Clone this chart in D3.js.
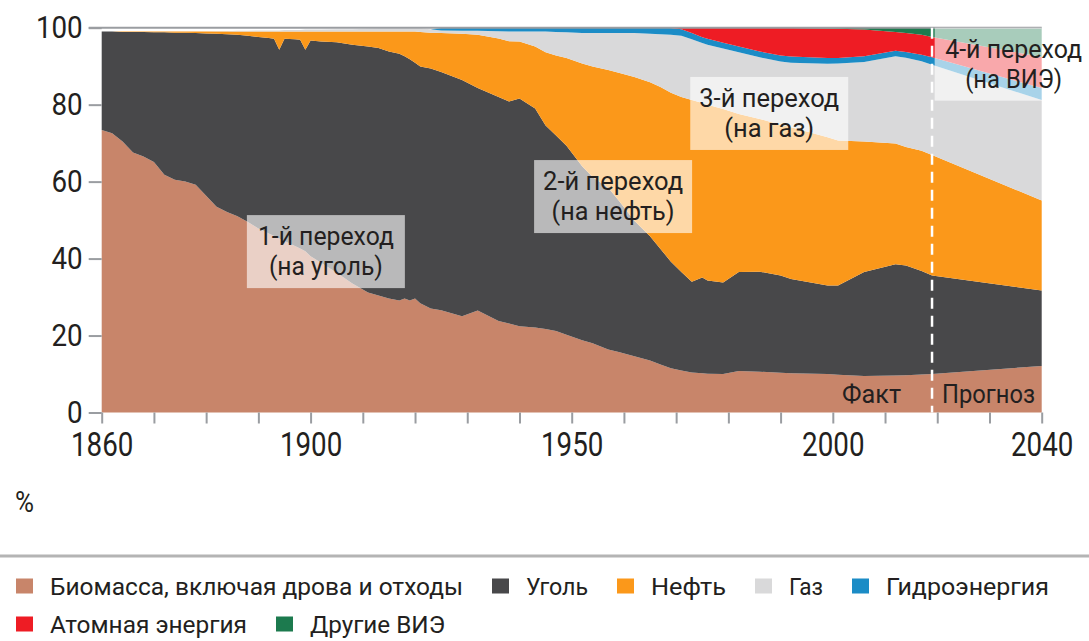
<!DOCTYPE html>
<html>
<head>
<meta charset="utf-8">
<script src="https://d3js.org/d3.v7.min.js"></script>
<style>
  body { margin: 0; background: #fff; }
  svg text { font-family: Roboto, "Liberation Sans", "DejaVu Sans Condensed", sans-serif; fill: #231f20; }
</style>
</head>
<body>
<div id="chart"></div>
<script>
// Shares of world primary energy, % (fact to 2019, forecast to 2040)
var years = [1860,1862,1864,1866,1868,1870,1872,1874,1876,1878,1880,1882,1884,1886,1888,1890,1892,1893,1894,1895,
  1897,1898,1899,1900,1902,1905,1908,1911,1913,1915,1917,1918,1919,1920,1921,1923,1925,1929,1932,1936,
  1938,1940,1943,1945,1947,1949,1952,1954,1957,1959,1962,1965,1967,1969,1971,1973,1975,1976,1979,1982,
  1986,1990,1992,1999,2001,2006,2012,2014,2017,2019,2040];

var biomass = [73.4,72.6,70.4,67.6,66.5,65.1,61.8,60.5,60.0,59.2,56.3,53.5,52.1,51.0,49.5,47.8,46.5,45.9,45.2,44.6,
  43.3,42.6,41.9,40.6,38.9,36.3,33.5,31.2,30.4,29.6,29.1,29.6,29.1,29.6,28.4,27.0,26.6,25.0,26.5,23.8,
  23.1,22.4,22.1,21.7,21.2,20.2,18.8,18.0,16.4,15.7,14.6,13.5,12.5,11.5,10.9,10.4,10.2,10.1,10.0,10.8,
  10.6,10.3,10.2,10.0,9.8,9.5,9.6,9.7,9.9,10.0,12.1];

var coal = [25.6,26.4,28.5,31.3,32.4,33.7,37.0,38.2,38.7,39.4,42.2,44.9,46.2,47.2,48.4,49.8,50.8,51.2,49.1,52.5,
  53.7,54.3,52.4,56.1,57.5,59.9,62.1,63.9,64.3,64.2,64.1,63.0,62.7,61.3,61.5,62.4,61.9,61.4,57.8,58.2,
  57.7,59.2,56.9,52.9,50.8,49.1,45.2,43.2,42.0,39.4,35.2,32.3,30.0,27.7,25.6,23.6,24.9,24.2,23.8,25.7,
  26.0,25.3,24.5,23.0,23.2,27.0,28.9,28.5,26.9,25.6,19.6];

var oil = [0,0,0.1,0.1,0.1,0.2,0.2,0.3,0.3,0.4,0.5,0.6,0.7,0.8,1.1,1.4,1.7,1.9,4.7,1.9,
  2.0,2.1,4.7,2.3,2.6,2.8,3.4,3.9,4.3,5.2,5.8,6.4,7.2,8.1,9.0,9.3,10.1,12.0,13.9,15.2,
  15.7,14.8,16.1,19.0,20.8,22.8,26.7,28.7,30.6,33.2,37.4,40.0,42.1,43.9,45.5,47.2,45.3,45.7,45.1,41.1,
  39.7,39.2,39.4,38.5,37.7,33.9,31.4,30.8,31.2,31.3,23.4];

var gas = [0,0,0,0,0,0,0,0,0,0,0,0.1,0.1,0.2,0.2,0.3,0.3,0.3,0.3,0.4,
  0.4,0.4,0.5,0.5,0.5,0.6,0.6,0.7,0.8,0.8,0.8,0.8,0.8,0.8,0.9,0.9,0.7,0.8,1.0,1.9,
  2.5,2.6,3.9,5.4,6.1,6.7,7.9,8.7,9.6,10.3,11.4,12.6,13.7,15.1,15.9,15.8,15.6,15.6,15.7,16.0,
  16.0,16.4,16.8,19.1,20.0,20.7,22.7,23.2,23.3,23.5,26.1];

var hydro = [0,0,0,0,0,0,0,0,0,0,0,0,0,0,0,0,0,0,0,0,
  0,0,0,0,0,0,0,0,0,0,0,0,0,0,0,0,0.6,0.7,0.7,0.8,
  0.9,0.9,0.9,0.9,1.0,1.1,1.3,1.3,1.3,1.3,1.3,1.5,1.6,1.7,1.7,1.6,1.5,1.5,1.5,1.5,
  1.5,1.6,1.6,1.5,1.4,1.5,1.4,1.5,1.7,1.9,3.1];

var nuclear = [0,0,0,0,0,0,0,0,0,0,0,0,0,0,0,0,0,0,0,0,
  0,0,0,0,0,0,0,0,0,0,0,0,0,0,0,0,0,0,0,0,
  0,0,0,0,0,0,0,0,0,0,0,0,0,0,0.3,1.3,2.4,2.8,3.8,4.8,
  6.1,7.1,7.4,7.7,7.6,6.9,4.9,4.9,5.2,5.3,8.1];

var renewables = [0,0,0,0,0,0,0,0,0,0,0,0,0,0,0,0,0,0,0,0,
  0,0,0,0,0,0,0,0,0,0,0,0,0,0,0,0,0,0,0,0,
  0,0,0,0,0,0,0,0,0,0,0,0,0,0,0,0,0,0,0,0,
  0,0,0,0.1,0.2,0.4,1.0,1.3,1.7,2.3,7.6];

var seriesKeys = ["biomass", "coal", "oil", "gas", "hydro", "nuclear", "renewables"];
var seriesNames = ["Биомасса, включая дрова и отходы", "Уголь", "Нефть", "Газ", "Гидроэнергия",
  "Атомная энергия", "Другие ВИЭ"];
var seriesColors = ["#c8856a", "#48484a", "#fb981a", "#d9d9da", "#1b8cc6", "#ee1c24", "#1c7a4e"];

var yTicks = [0, 20, 40, 60, 80, 100];
var xTicks = d3.range(1860, 2041, 10);
var xLabels = [1860, 1900, 1950, 2000, 2040];
var factYear = 2019;

// the four "transition" captions, anchored at their top-left corner (year, %)
var notes = [
  { lines: ["1-й переход", "(на уголь)"], year: 1887.8, value: 51.3 },
  { lines: ["2-й переход", "(на нефть)"], year: 1942.8, value: 65.6 },
  { lines: ["3-й переход", "(на газ)"], year: 1972.7, value: 87.2 },
  { lines: ["4-й переход", "(на ВИЭ)"], year: 2019.5, value: 100 }
];

// layout: the original face is a condensed one, so text is squeezed to the widths it takes there
var width = 1089, height = 641;
var boxW = 158, boxH = 73;
var digitW = 15.6;
var textWidths = {
  "Биомасса, включая дрова и отходы": 413, "Уголь": 62, "Нефть": 75, "Газ": 34, "Гидроэнергия": 163,
  "Атомная энергия": 197, "Другие ВИЭ": 135,
  "1-й переход": 136, "2-й переход": 140, "3-й переход": 140, "4-й переход": 137,
  "(на уголь)": 114, "(на нефть)": 123, "(на газ)": 90, "(на ВИЭ)": 97,
  "Факт": 59, "Прогноз": 93, "%": 19
};

function squeeze(sel) {
  sel.each(function() {
    var s = d3.select(this).text();
    var w = textWidths[s] || s.length * digitW;
    d3.select(this).attr("textLength", w).attr("lengthAdjust", "spacingAndGlyphs");
  });
}

var svg = d3.select("#chart").append("svg")
    .attr("width", width)
    .attr("height", height);

var x = d3.scaleLinear().domain([1860, 2040]).range([101.7, 1041.7]);
var y = d3.scaleLinear().domain([0, 100]).range([412.5, 27.7]);

var columns = { biomass: biomass, coal: coal, oil: oil, gas: gas, hydro: hydro, nuclear: nuclear, renewables: renewables };
var rows = years.map(function(yr, i) {
  var r = { year: yr };
  seriesKeys.forEach(function(k) { r[k] = columns[k][i]; });
  return r;
});

var stacked = d3.stack().keys(seriesKeys)(rows);

var area = d3.area()
    .x(function(d) { return x(d.data.year); })
    .y0(function(d) { return y(d[0]); })
    .y1(function(d) { return y(d[1]); });

svg.append("g").selectAll("path")
    .data(stacked)
    .enter().append("path")
    .attr("fill", function(d, i) { return seriesColors[i]; })
    .attr("d", area);

// y axis
var yAxis = svg.append("g")
    .attr("transform", "translate(" + x(1860) + ",0)")
    .call(d3.axisLeft(y).tickValues(yTicks).tickSize(13).tickPadding(6));
yAxis.select(".domain").remove();
yAxis.selectAll("line").attr("stroke", "#9a9da1").attr("stroke-width", 2);
yAxis.selectAll("text").attr("font-size", 31).attr("fill", "#231f20").call(squeeze);

// line along 100
svg.append("line")
    .attr("x1", x(1860) - 13).attr("x2", x(2040))
    .attr("y1", y(100)).attr("y2", y(100))
    .attr("stroke", "#9a9da1").attr("stroke-width", 2);

// x axis
var xAxis = svg.append("g")
    .attr("transform", "translate(0," + y(0) + ")")
    .call(d3.axisBottom(x).tickValues(xTicks).tickSize(11).tickPadding(9)
      .tickFormat(function(d) { return xLabels.indexOf(d) > -1 ? d : ""; }));
xAxis.select(".domain").remove();
xAxis.selectAll("line").attr("stroke", "#9a9da1").attr("stroke-width", 2);
xAxis.selectAll("text").attr("font-size", 33).attr("fill", "#231f20");
xAxis.selectAll("text").filter(function(d) { return xLabels.indexOf(d) > -1; }).call(squeeze);

// caption boxes
var noteG = svg.append("g").selectAll("g")
    .data(notes)
    .enter().append("g")
    .attr("transform", function(d) { return "translate(" + x(d.year) + "," + y(d.value) + ")"; });

noteG.append("rect")
    .attr("width", boxW).attr("height", boxH)
    .attr("fill", "#fff").attr("fill-opacity", 0.62);

// fact / forecast divider
svg.append("line")
    .attr("x1", x(factYear)).attr("x2", x(factYear))
    .attr("y1", y(100)).attr("y2", y(0))
    .attr("stroke", "#fff").attr("stroke-width", 2.5)
    .attr("stroke-dasharray", "11,7");

noteG.selectAll("text")
    .data(function(d) { return d.lines; })
    .enter().append("text")
    .attr("x", boxW / 2)
    .attr("y", function(d, i) { return 30 + i * 30; })
    .attr("text-anchor", "middle")
    .attr("font-size", 25)
    .text(function(d) { return d; })
    .call(squeeze);

svg.append("text")
    .attr("x", x(factYear) - 31).attr("y", y(0) - 10)
    .attr("text-anchor", "end").attr("font-size", 25)
    .text("Факт").call(squeeze);
svg.append("text")
    .attr("x", x(factYear) + 10).attr("y", y(0) - 10)
    .attr("font-size", 25)
    .text("Прогноз").call(squeeze);

svg.append("text")
    .attr("x", 15).attr("y", 512)
    .attr("font-size", 30)
    .text("%").call(squeeze);

// separator above legend
svg.append("line")
    .attr("x1", 0).attr("x2", width)
    .attr("y1", 556).attr("y2", 556)
    .attr("stroke", "#b4b4b4").attr("stroke-width", 3);

// legend, flowing in rows
var legendRows = [595, 633];
var lx = 16, row = 0;
seriesNames.forEach(function(name, i) {
  var tw = textWidths[name];
  if (lx + 34 + tw > width - 20) { row += 1; lx = 16; }
  var base = legendRows[row];
  var g = svg.append("g");
  g.append("rect")
      .attr("x", lx).attr("y", base - 16.5)
      .attr("width", 17).attr("height", 15)
      .attr("fill", seriesColors[i]);
  g.append("text")
      .attr("x", lx + 34).attr("y", base)
      .attr("font-size", 24)
      .text(name)
      .call(squeeze);
  lx += 34 + tw + 29;
});
</script>
</body>
</html>
